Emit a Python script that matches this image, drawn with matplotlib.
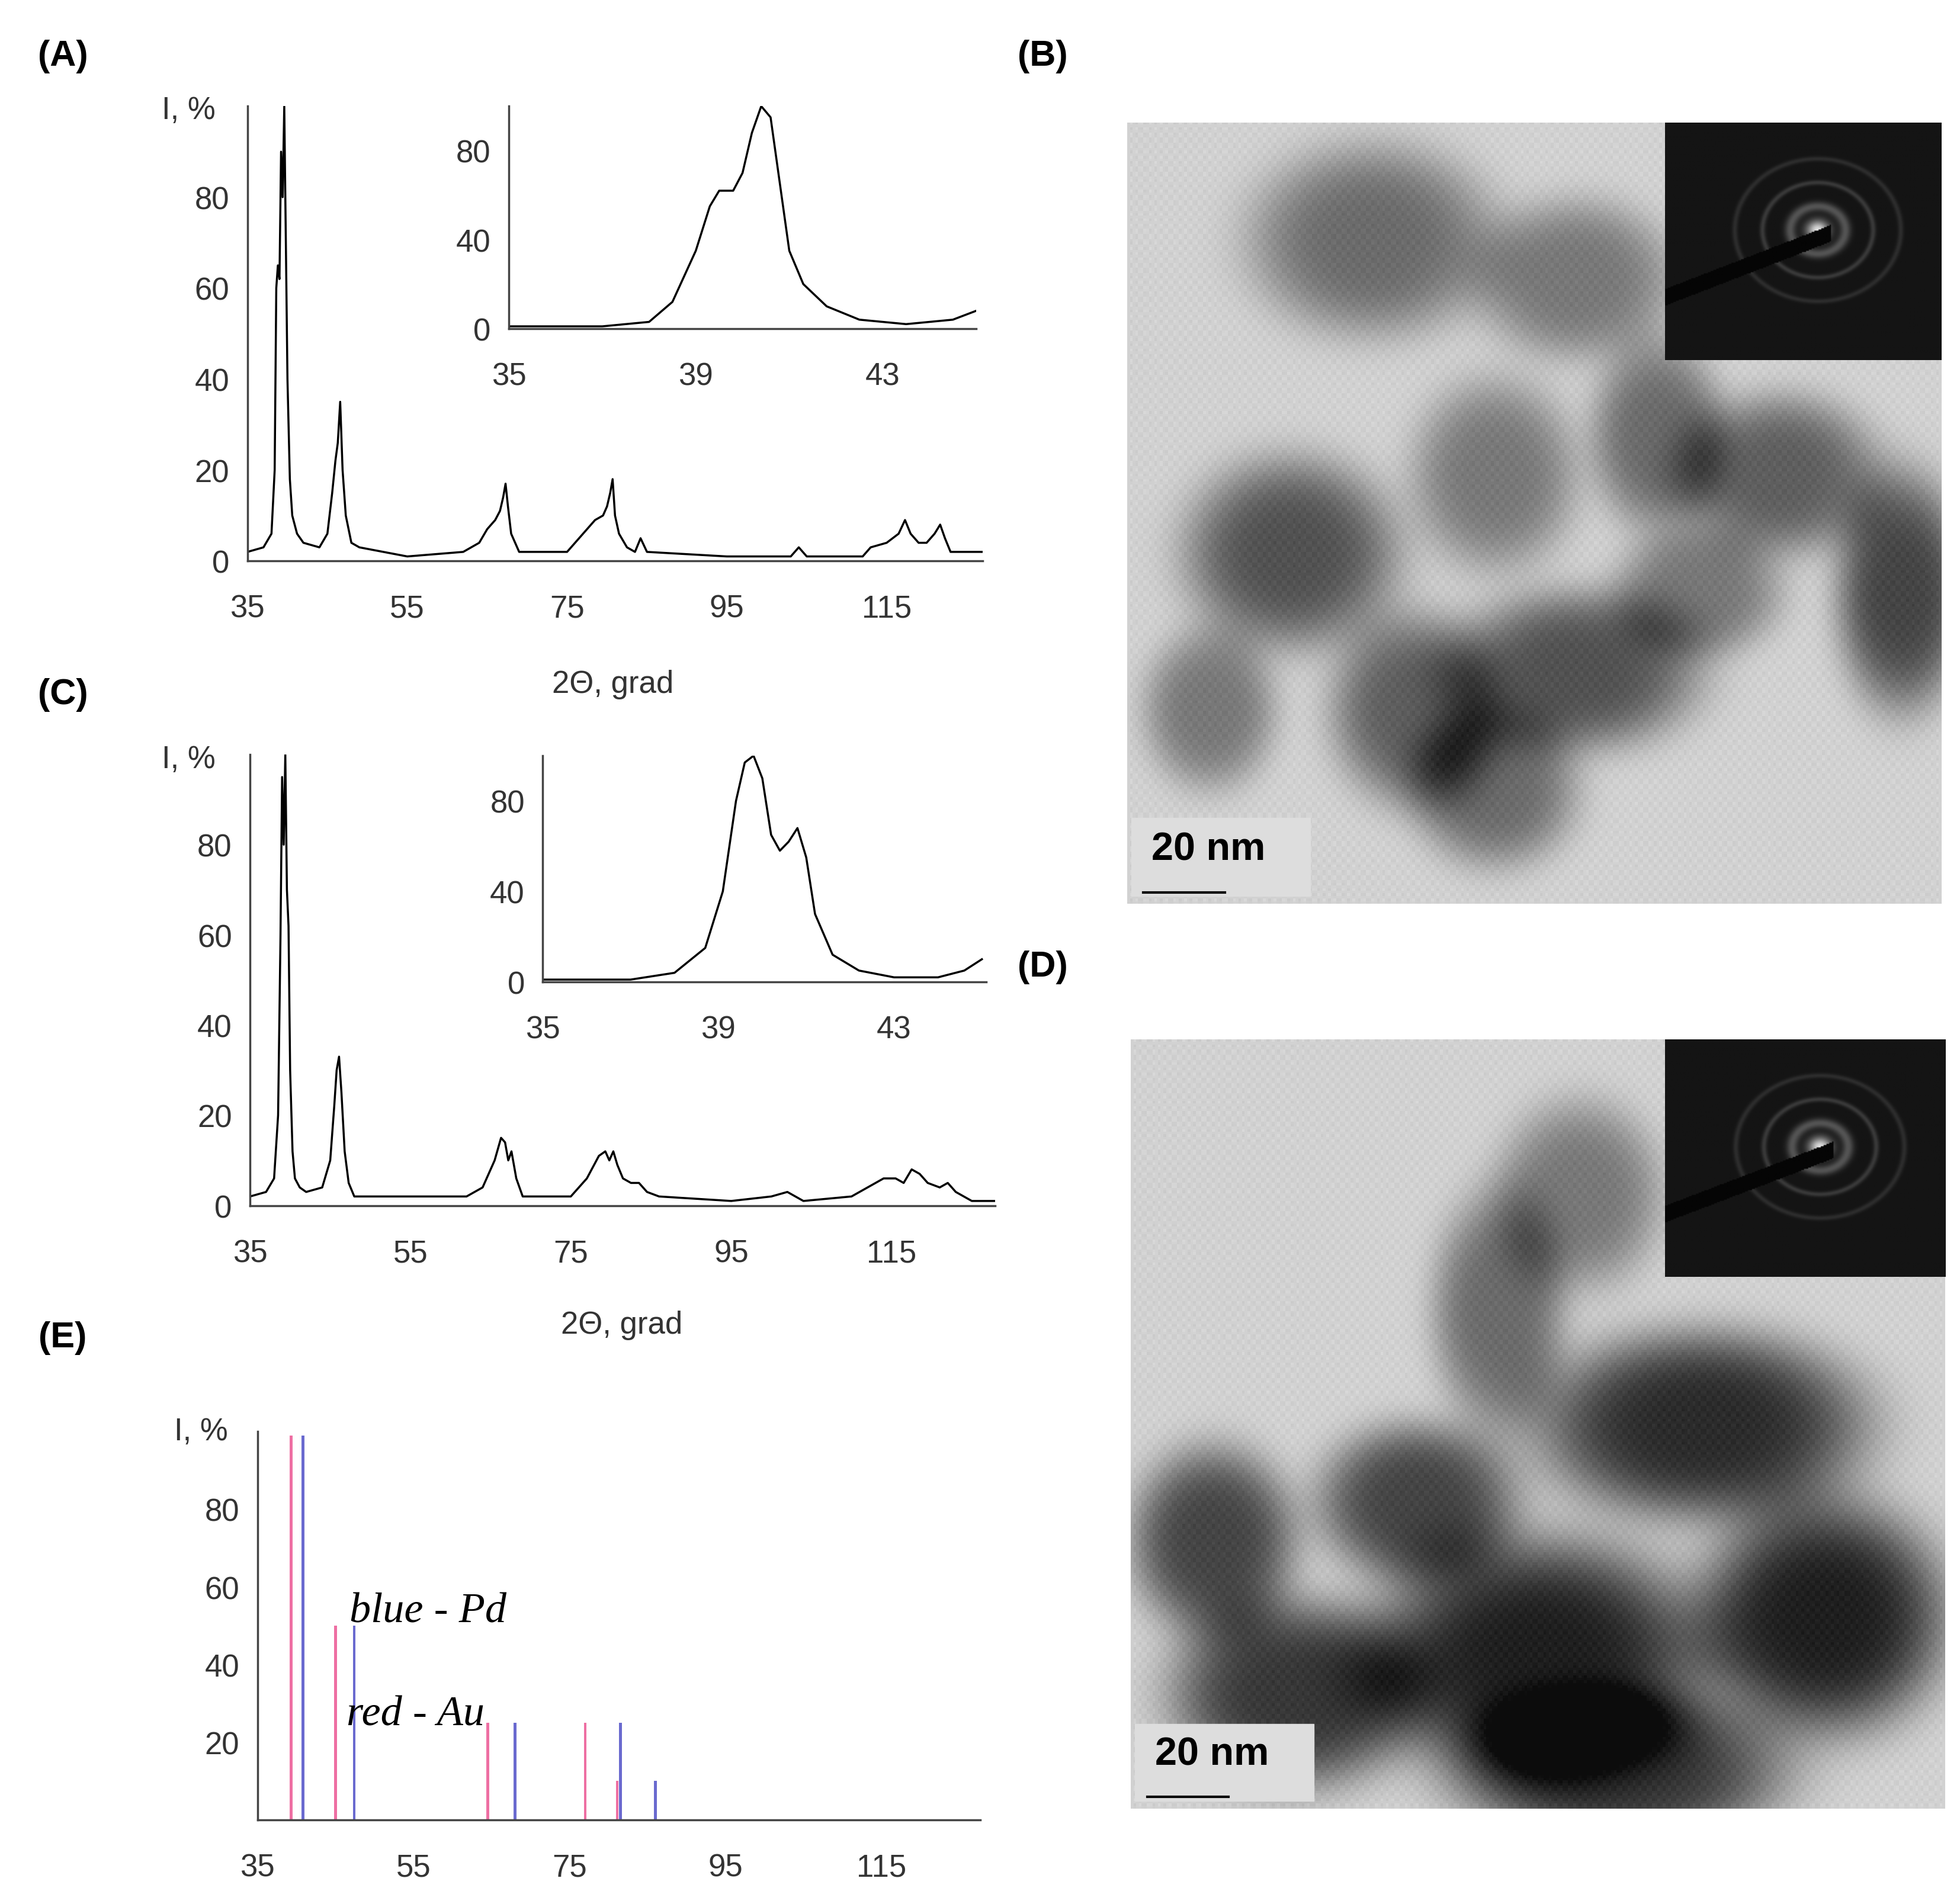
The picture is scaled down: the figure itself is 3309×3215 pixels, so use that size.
import numpy as np
import matplotlib
matplotlib.use("Agg")
import matplotlib.pyplot as plt
from matplotlib.patches import Rectangle

plt.rcParams['font.family'] = ['Liberation Sans', 'DejaVu Sans']
W, H = 1560.0, 1516.0
def box(x0, y0, x1, y1):
    return [x0 / W, 1 - y1 / H, (x1 - x0) / W, (y1 - y0) / H]

# ---- data ----
a_x = [35,37,38,38.4,38.6,38.8,39.0,39.2,39.4,39.6,39.8,40.0,40.3,40.6,41.2,42,44,45,45.6,46.0,46.3,46.6,46.9,47.3,48.0,49,55,62,64,65,66,66.6,67.0,67.3,67.6,68.0,69,75,77,78.5,79.5,80.0,80.4,80.7,81.0,81.5,82.5,83.5,84.2,85,95,103,104,105,112,113,115,116.5,117.3,118,119,120,121,121.7,122.3,123,127]
a_y = [2,3,6,20,60,65,62,90,80,100,70,40,18,10,6,4,3,6,15,22,26,35,20,10,4,3,1,2,4,7,9,11,14,17,12,6,2,2,6,9,10,12,15,18,10,6,3,2,5,2,1,1,3,1,1,3,4,6,9,6,4,4,6,8,5,2,2]
ai_x = [35,37,38,38.5,39,39.3,39.5,39.8,40.0,40.2,40.4,40.6,40.8,41.0,41.3,41.8,42.5,43.5,44.5,45]
ai_y = [1,1,3,12,35,55,62,62,70,88,100,95,65,35,20,10,4,2,4,8]
c_x = [35,37,38,38.5,38.8,39.0,39.2,39.4,39.6,39.8,40.0,40.3,40.6,41.2,42,44,45,45.5,45.8,46.1,46.4,46.8,47.3,48,55,62,64,65.5,66.3,66.8,67.2,67.6,68.2,69,75,77,78.5,79.3,79.8,80.3,80.8,81.5,82.5,83.5,84.5,86,95,100,102,104,110,112,114,115.5,116.5,117.5,118.5,119.5,121,122,123,125,128]
c_y = [2,3,6,20,60,95,80,100,70,62,30,12,6,4,3,4,10,22,30,33,25,12,5,2,2,2,4,10,15,14,10,12,6,2,2,6,11,12,10,12,9,6,5,5,3,2,1,2,3,1,2,4,6,6,5,8,7,5,4,5,3,1,1]
ci_x = [35,37,38,38.7,39.1,39.4,39.6,39.8,40.0,40.2,40.4,40.6,40.8,41.0,41.2,41.6,42.2,43,44,44.6,45]
ci_y = [1,1,4,15,40,80,97,100,90,65,58,62,68,55,30,12,5,2,2,5,10]
au_x = [39.3,45.0,64.5,77.0,81.1]
au_y = [99,50,25,25,10]
pd_x = [40.8,47.4,68.0,81.5,86.0]
pd_y = [99,50,25,25,10]

fig = plt.figure(figsize=(33.09, 32.16), dpi=100)
tc = "#333333"
fs = 38

def style(ax, xt, yt, xlim, ylim):
    ax.set_xlim(*xlim); ax.set_ylim(*ylim)
    for s in ("top", "right"):
        ax.spines[s].set_visible(False)
    for s in ("left", "bottom"):
        ax.spines[s].set_linewidth(2.5); ax.spines[s].set_color("#444444")
    ax.set_xticks(xt); ax.set_yticks(yt)
    ax.tick_params(labelsize=fs, colors=tc, length=0)
    ax.tick_params(axis="x", pad=40)
    ax.tick_params(axis="y", pad=22)
    ax.patch.set_alpha(0)

ax = fig.add_axes(box(197, 85, 782, 447))
ax.plot(a_x, a_y, color="black", lw=2.5)
style(ax, [35,55,75,95,115], [0,20,40,60,80], (35,127), (0,100))
fig.text(150/W, 1-88/H, "I, %", fontsize=fs, color=tc, ha="center", va="center")
fig.text(488/W, 1-545/H, "2Θ, grad", fontsize=fs, color=tc, ha="center", va="center")

ax = fig.add_axes(box(405, 85, 777, 262))
ax.plot(ai_x, ai_y, color="black", lw=2.5)
style(ax, [35,39,43], [0,40,80], (35,45), (0,100))

ax = fig.add_axes(box(199, 601, 792, 960))
ax.plot(c_x, c_y, color="black", lw=2.5)
style(ax, [35,55,75,95,115], [0,20,40,60,80], (35,127.9), (0,100))
fig.text(150/W, 1-605/H, "I, %", fontsize=fs, color=tc, ha="center", va="center")
fig.text(495/W, 1-1055/H, "2Θ, grad", fontsize=fs, color=tc, ha="center", va="center")

ax = fig.add_axes(box(432, 602, 785, 782))
ax.plot(ci_x, ci_y, color="black", lw=2.5)
style(ax, [35,39,43], [0,40,80], (35,45.1), (0,100))

ax = fig.add_axes(box(205, 1140, 780, 1449))
ax.bar(au_x, au_y, width=0.35, color="#ee6fa3")
ax.bar(pd_x, pd_y, width=0.35, color="#6a6acf")
style(ax, [35,55,75,95,115], [20,40,60,80], (35,127.6), (0,100))
fig.text(160/W, 1-1140/H, "I, %", fontsize=fs, color=tc, ha="center", va="center")
fig.text(278/W, 1-1283/H, "blue - Pd", fontsize=52, family="Liberation Serif", style="italic", va="center")
fig.text(276/W, 1-1365/H, "red - Au", fontsize=52, family="Liberation Serif", style="italic", va="center")

for lab, (x, y) in {"(A)": (50, 45), "(B)": (830, 45), "(C)": (50, 553),
                    "(D)": (830, 770), "(E)": (50, 1065)}.items():
    fig.text(x/W, 1-y/H, lab, fontsize=44, weight="bold", ha="center", va="center")

# ---- TEM-like images ----
def tem(blobs, n=300):
    yy, xx = np.mgrid[0:n, 0:n] / n
    img = np.full((n, n), 0.82) + 0.03*np.sin(xx*517)*np.cos(yy*433)
    for cx, cy, rx, ry, d in blobs:
        r = ((xx-cx)/rx)**2 + ((yy-cy)/ry)**2
        img -= d*np.exp(-r**2)
    return np.clip(img, 0.05, 1)

blobs_b = [(0.3,0.15,0.15,0.12,0.4),(0.55,0.2,0.12,0.1,0.35),(0.2,0.55,0.13,0.12,0.5),
           (0.45,0.45,0.1,0.12,0.35),(0.65,0.4,0.08,0.12,0.4),(0.8,0.45,0.12,0.1,0.45),
           (0.95,0.6,0.08,0.15,0.55),(0.55,0.7,0.15,0.1,0.5),(0.35,0.75,0.1,0.12,0.45),
           (0.1,0.75,0.08,0.1,0.35),(0.45,0.85,0.1,0.1,0.4),(0.7,0.6,0.1,0.08,0.35)]
blobs_d = [(0.55,0.2,0.1,0.12,0.35),(0.45,0.35,0.08,0.15,0.4),(0.7,0.5,0.2,0.12,0.65),
           (0.35,0.6,0.12,0.1,0.55),(0.1,0.65,0.1,0.12,0.55),(0.2,0.85,0.15,0.12,0.6),
           (0.5,0.8,0.2,0.15,0.7),(0.85,0.75,0.15,0.15,0.7),(0.6,0.95,0.2,0.1,0.6)]

def diff_img(n=200):
    yy, xx = np.mgrid[0:n, 0:n] / n
    r = np.hypot(xx-0.55, yy-0.45)
    img = 0.08 + 0.25*np.exp(-((r-0.1)/0.02)**2) + 0.15*np.exp(-((r-0.2)/0.01)**2) + 0.1*np.exp(-((r-0.3)/0.01)**2)
    img += 0.8*np.exp(-(r/0.04)**2)
    beam = (yy > 0.45 + (0.55-xx)*0.45) & (yy < 0.52 + (0.55-xx)*0.45) & (xx < 0.6)
    img[beam] = 0.02
    return np.clip(img, 0, 1)

for (x0, y0, x1, y1), iy1, blobs in [((897, 98, 1545, 720), 287, blobs_b),
                                     ((900, 828, 1548, 1440), 1017, blobs_d)]:
    a = fig.add_axes(box(x0, y0, x1, y1))
    a.imshow(tem(blobs), cmap="gray", vmin=0, vmax=1, extent=(0,1,0,1), aspect="auto")
    a.add_patch(Rectangle((0.005, 0.01), 0.22, 0.1, color="#dddddd", transform=a.transAxes))
    a.text(0.03, 0.07, "20 nm", fontsize=48, weight="bold", transform=a.transAxes, va="center")
    a.plot([0.02, 0.12], [0.015, 0.015], color="black", lw=3, transform=a.transAxes)
    a.axis("off")
    b = fig.add_axes(box(1325, y0, x1, iy1))
    b.imshow(diff_img(), cmap="gray", vmin=0, vmax=1, aspect="auto")
    b.axis("off")

fig.savefig("out.png", dpi=100)
